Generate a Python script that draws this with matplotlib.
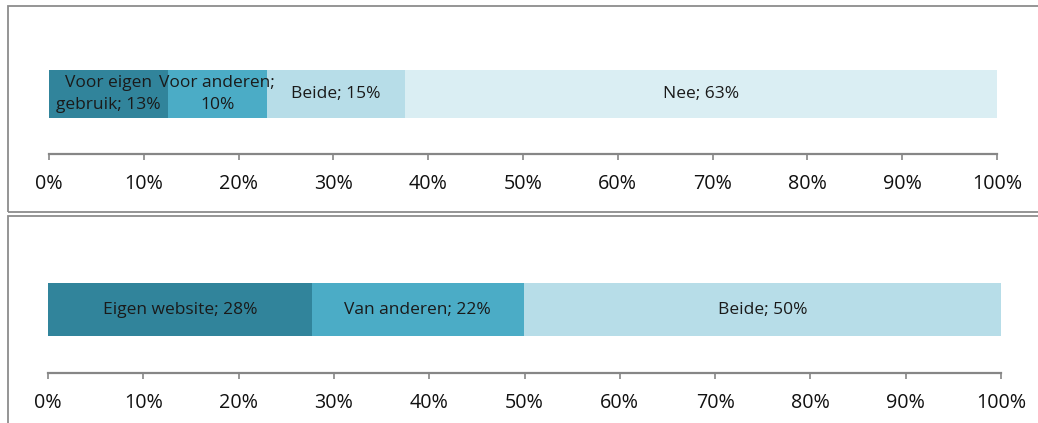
import matplotlib.pyplot as plt
from matplotlib.patches import Rectangle

# top chart: stacked shares (percent)
top_labels = ["Voor eigen\ngebruik; 13%", "Voor anderen;\n10%", "Beide; 15%", "Nee; 63%"]
top_values = [12.5, 10.5, 14.6, 62.4]
top_colors = ["#31849B", "#4BACC6", "#B7DDE8", "#DAEEF3"]

# bottom chart
bottom_labels = ["Eigen website; 28%", "Van anderen; 22%", "Beide; 50%"]
bottom_values = [27.7, 22.2, 50.1]
bottom_colors = ["#31849B", "#4BACC6", "#B7DDE8"]

ticks = list(range(0, 101, 10))
tick_labels = [f"{t}%" for t in ticks]

plt.rcParams['font.family'] = ['Open Sans', 'DejaVu Sans']

W, H = 1038, 423
fig = plt.figure(figsize=(W / 100, H / 100), dpi=100)


def px_rect(x0, y0, x1, y1):
    # pixel box (top-left origin) -> figure fraction [left, bottom, width, height]
    return [x0 / W, 1 - y1 / H, (x1 - x0) / W, (y1 - y0) / H]


# panel frames
for (x0, y0, x1, y1) in [(8, 6, 1055, 212), (8, 216, 1055, 440)]:
    l, b, w, h = px_rect(x0, y0, x1, y1)
    fig.patches.append(Rectangle((l, b), w, h, transform=fig.transFigure,
                                 fill=False, edgecolor="#8c8c8c", linewidth=1.3))


def stacked(ax, values, labels, colors, height):
    left = 0
    for v, lab, c in zip(values, labels, colors):
        ax.barh(0.5, v, left=left, height=height, color=c, edgecolor="none")
        ax.text(left + v / 2, 0.5, lab, ha="center", va="center",
                fontsize=12.5, color="#1a1a1a", linespacing=1.45)
        left += v
    ax.set_xlim(0, 100)
    ax.set_ylim(0, 1)
    ax.set_yticks([])
    ax.set_xticks(ticks)
    ax.set_xticklabels(tick_labels, fontsize=14.2)
    for s in ["top", "right", "left"]:
        ax.spines[s].set_visible(False)
    ax.spines["bottom"].set_color("#868686")
    ax.spines["bottom"].set_linewidth(1.6)
    ax.tick_params(axis="x", direction="out", length=4.5, width=1.2,
                   color="#868686", pad=10, labelcolor="#111111")
    ax.patch.set_alpha(0)


ax1 = fig.add_axes(px_rect(49, 34, 997, 154))
stacked(ax1, top_values, top_labels, top_colors, 0.4)

ax2 = fig.add_axes(px_rect(48, 246, 1001, 373))
stacked(ax2, bottom_values, bottom_labels, bottom_colors, 53 / 127)

fig.savefig("out.png", dpi=100)
